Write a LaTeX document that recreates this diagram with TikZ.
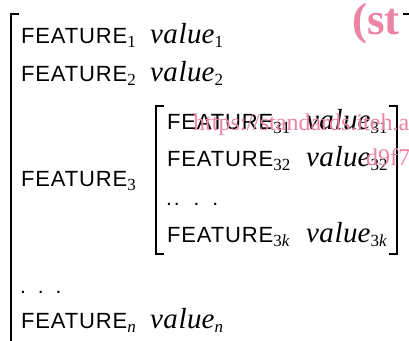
\documentclass[tikz,border=0pt]{standalone}
\usepackage{fontspec}
\setmainfont{Liberation Serif}
\newfontfamily\sansf[LetterSpace=4]{Liberation Sans}
\newfontfamily\valf[LetterSpace=2]{Liberation Serif Italic}
\definecolor{wm}{RGB}{234,132,162}
\newcommand{\Ft}[1]{{\fontsize{22}{22}\sansf FEATURE}\raisebox{-4.5pt}{\fontsize{17}{17}\selectfont #1}}
\newcommand{\Vl}[1]{{\fontsize{29}{29}\valf valu}{\fontsize{29}{29}\itshape e}\raisebox{-4.5pt}{\fontsize{17}{17}\selectfont #1}}
\tikzset{
  txt/.style={inner sep=0pt, outer sep=0pt, anchor=base west},
  brk/.style={line width=1.2pt, line cap=butt},
  wmk/.style={inner sep=0pt, anchor=base west, text=wm}
}
\begin{document}
\begin{tikzpicture}[x=1pt,y=-1pt]
\useasboundingbox (0,0) rectangle (409,340);
% outer bracket
\draw[brk] (19,14) -- (11,14) -- (11,345);
\draw[brk] (403,14) -- (410,14) -- (410,345);
% rows
\node[txt] (f1) at (21,43) {\Ft{1}};
\node[txt] (v1) at (150,43) {\Vl{1}};
\node[txt] (f2) at (21,81) {\Ft{2}};
\node[txt] (v2) at (150,81) {\Vl{2}};
\node[txt] (f3) at (21,186) {\Ft{3}};
% inner matrix
\draw[brk] (164,106) -- (156,106) -- (156,254) -- (164,254);
\draw[brk] (389,106) -- (397,106) -- (397,254) -- (389,254);
\node[txt] (f31) at (167,129) {\Ft{31}};
\node[txt] (v31) at (306,129) {\Vl{31}};
\node[txt] (f32) at (167,166) {\Ft{32}};
\node[txt] (v32) at (306,166) {\Vl{32}};
\node[txt, font=\fontsize{21}{21}\sansf] (d3) at (166,205) {.\hspace{2pt}.\hspace{14pt}.\hspace{13pt}.};
\node[txt] (f3k) at (167,242) {\Ft{3\textit{k}}};
\node[txt] (v3k) at (306,242) {\Vl{3\textit{k}}};
% bottom rows
\node[txt, font=\fontsize{21}{21}\sansf] (dn) at (20,293) {.\hspace{12pt}.\hspace{12pt}.};
\node[txt] (fn) at (21,328) {\Ft{\textit{n}}};
\node[txt] (vn) at (150,328) {\Vl{\textit{n}}};
% watermark
\node[wmk, font=\fontsize{45}{45}\selectfont\bfseries] (w1) at (352,34) {(st};
\node[wmk, font=\fontsize{24}{24}\selectfont] (w2) at (193,130) {https://standards.iteh.a};
\node[wmk, font=\fontsize{24}{24}\selectfont] (w3) at (366,165) {d9f7};
\end{tikzpicture}
\end{document}
